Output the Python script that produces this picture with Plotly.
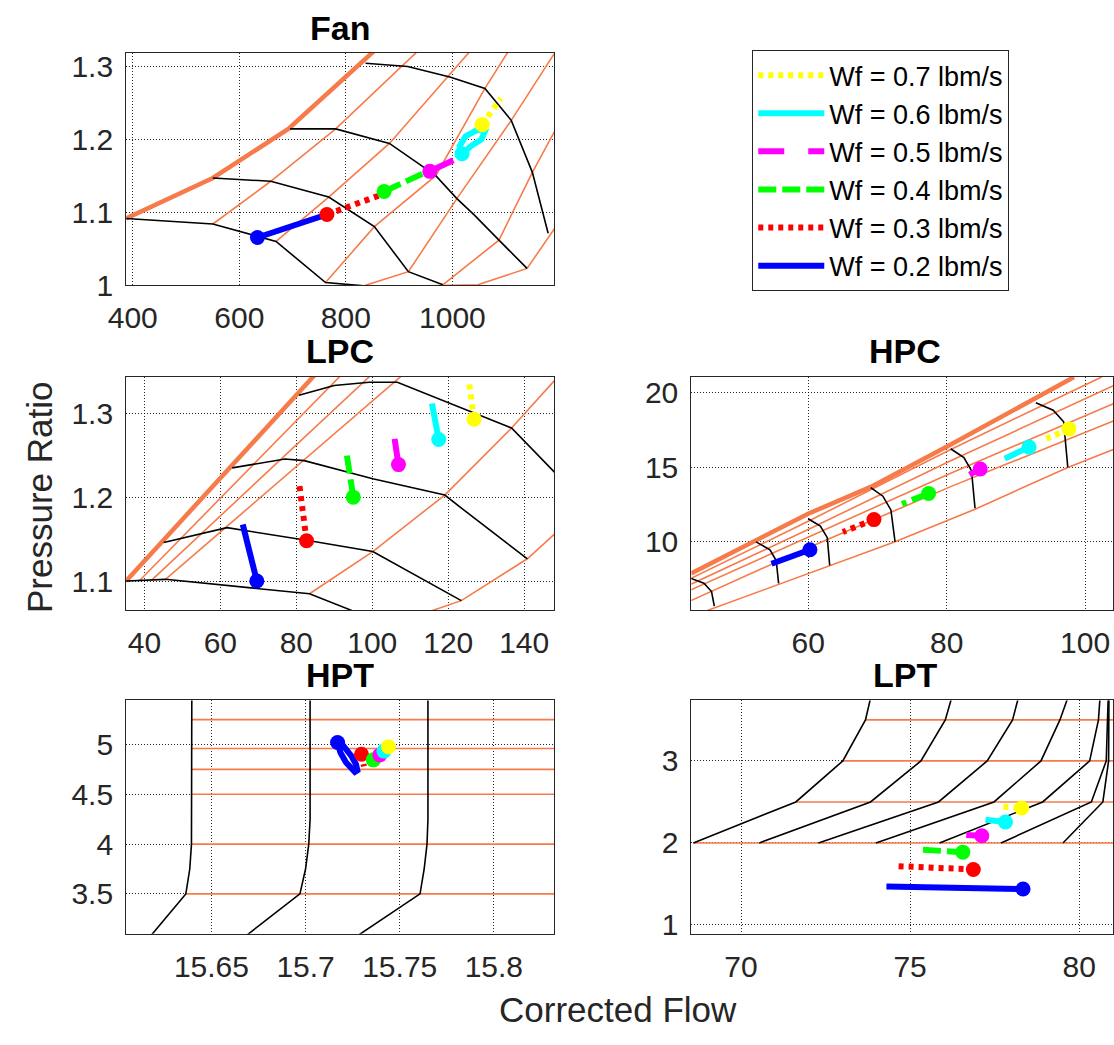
import plotly.graph_objects as go

# ---------------- DATA ----------------
wf_names = ["Wf = 0.2 lbm/s", "Wf = 0.3 lbm/s", "Wf = 0.4 lbm/s",
            "Wf = 0.5 lbm/s", "Wf = 0.6 lbm/s", "Wf = 0.7 lbm/s"]

# Fan map
fan_surge_x = [387.5, 550.3, 692.0, 850.0, 870.0]
fan_surge_y = [1.0914, 1.1468, 1.2140, 1.3190, 1.3320]
fan_speed_x = [[387.5, 550.3, 668.9, 761.8, 833.6],
               [550.3, 659.0, 767.7, 853.4, 917.3, 982.0],
               [695.2, 780.9, 881.7, 968.7, 1008.3, 1041.2, 1087.3, 1140.0],
               [836.9, 916.0, 995.1, 1061.0, 1110.4, 1150.0, 1179.6]]
fan_speed_y = [[1.0914, 1.0838, 1.0599, 1.0036, 0.9991],
               [1.1468, 1.1423, 1.1207, 1.0802, 1.0185, 1.0005],
               [1.2140, 1.2140, 1.1941, 1.1500, 1.1185, 1.0959, 1.0617, 1.0230],
               [1.3040, 1.2995, 1.2851, 1.2694, 1.2257, 1.1545, 1.0712]]
fan_beta_x = [[550.3, 659.0, 780.9, 932.5],
              [668.9, 767.7, 881.7, 1031.3],
              [761.8, 853.4, 968.7, 1061.0, 1103.8],
              [833.6, 917.3, 1008.3, 1110.4, 1190.8],
              [981.9, 1087.3, 1150.0, 1195.0],
              [899.5, 1047.8, 1140.1, 1195.0]]
fan_beta_y = [[1.0838, 1.1423, 1.2140, 1.3189],
              [1.0599, 1.1207, 1.1941, 1.3189],
              [1.0036, 1.0802, 1.1500, 1.2694, 1.3189],
              [0.9991, 1.0185, 1.1185, 1.2257, 1.3167],
              [1.0005, 1.0617, 1.1545, 1.2150],
              [0.9986, 1.0005, 1.0230, 1.0810]]
fan_op_x = [[634.0, 700.0, 764.4],
            [764.4, 863.3],
            [871.8, 952.2],
            [957.5, 1008.3],
            [1018.0, 1013.5, 1024.7, 1047.8, 1061.0, 1054.4, 1034.6, 1021.4],
            [1055.7, 1090.6]]
fan_op_y = [[1.0653, 1.0810, 1.0968],
            [1.0968, 1.1230],
            [1.1284, 1.1554],
            [1.1559, 1.1734],
            [1.1800, 1.1905, 1.2040, 1.2130, 1.2108, 1.1995, 1.1905, 1.1815],
            [1.2198, 1.2559]]
fan_mark_x = [634.0, 764.4, 871.8, 957.5, 1018.0, 1055.7]
fan_mark_y = [1.0653, 1.0968, 1.1284, 1.1559, 1.1800, 1.2198]

# LPC map
lpc_surge_x = [35.19, 86.25]
lpc_surge_y = [1.1000, 1.3526]
lpc_speed_x = [[35.19, 45.55, 83.48, 94.58],
               [45.09, 61.74, 83.48, 100.13, 123.44],
               [63.13, 77.00, 82.09, 100.13, 119.09, 125.10, 140.83],
               [80.70, 89.95, 99.20, 106.60, 136.67, 147.96]]
lpc_speed_y = [[1.1000, 1.1020, 1.0848, 1.0649],
               [1.1460, 1.1636, 1.1480, 1.1351, 1.0766],
               [1.2349, 1.2454, 1.2435, 1.2220, 1.2025, 1.1811, 1.1265],
               [1.3214, 1.3331, 1.3370, 1.3370, 1.2825, 1.2298]]
lpc_beta_x = [[38.61, 93.20],
              [41.85, 101.20],
              [45.55, 109.60],
              [83.48, 100.13, 119.09, 136.67, 147.96],
              [115.85, 123.44, 140.83, 147.96]]
lpc_beta_y = [[1.1000, 1.3520],
              [1.1008, 1.3520],
              [1.1020, 1.3520],
              [1.0848, 1.1351, 1.2025, 1.2825, 1.3390],
              [1.0649, 1.0766, 1.1265, 1.1558]]
lpc_op_x = [[69.6, 68.3, 67.0, 65.9],
            [82.7, 80.7],
            [95.0, 93.2],
            [106.9, 105.5],
            [117.5, 115.7],
            [126.8, 125.4]]
lpc_op_y = [[1.1000, 1.1260, 1.1500, 1.1674],
            [1.1480, 1.2180],
            [1.2000, 1.2532],
            [1.2388, 1.2805],
            [1.2688, 1.3117],
            [1.2930, 1.3390]]
lpc_mark_x = [69.6, 82.7, 95.0, 106.9, 117.5, 126.8]
lpc_mark_y = [1.1000, 1.1480, 1.2000, 1.2388, 1.2688, 1.2930]

# HPC map
hpc_surge_x = [43.08, 52.47, 60.00, 69.04, 80.60, 98.40]
hpc_surge_y = [7.88, 10.07, 11.88, 13.68, 16.52, 21.05]
hpc_speed_x = [[43.08, 44.94, 46.04, 46.44],
               [52.47, 54.48, 55.38, 55.73],
               [60.00, 61.76, 62.76, 63.11],
               [69.04, 70.79, 71.95, 72.55],
               [80.58, 82.49, 83.59, 84.10],
               [92.88, 95.39, 96.90, 97.50]]
hpc_speed_y = [[7.55, 7.22, 6.67, 5.69],
               [10.00, 9.47, 8.75, 7.22],
               [11.55, 11.05, 10.28, 8.42],
               [13.63, 13.06, 12.14, 10.00],
               [16.24, 15.65, 14.77, 12.25],
               [19.32, 18.82, 18.05, 14.99]]
hpc_beta_x = [[43.08, 60.00, 80.58, 102.40],
              [43.08, 60.00, 80.58, 104.08],
              [43.08, 60.00, 80.58, 104.08],
              [43.08, 60.00, 80.58, 104.08],
              [45.44, 63.01, 72.55, 84.10, 97.50, 104.08]]
hpc_beta_y = [[7.55, 11.38, 16.19, 21.05],
              [7.16, 10.83, 15.43, 20.46],
              [6.78, 10.30, 14.60, 19.26],
              [6.06, 9.60, 13.70, 18.10],
              [5.40, 8.38, 10.00, 12.19, 14.99, 16.19]]
hpc_op_x = [[60.25, 54.70], [69.50, 65.00], [77.40, 73.55],
            [84.85, 83.30], [91.90, 88.40], [97.65, 94.40]]
hpc_op_y = [[9.47, 8.53], [11.49, 10.66], [13.24, 12.54],
            [14.88, 14.50], [16.35, 15.58], [17.57, 16.91]]
hpc_mark_x = [60.25, 69.50, 77.40, 84.85, 91.90, 97.65]
hpc_mark_y = [9.47, 11.49, 13.24, 14.88, 16.35, 17.57]

# HPT map
hpt_speed_x = [[15.6396, 15.6396, 15.6394, 15.6385, 15.6364, 15.6143],
               [15.7024, 15.7024, 15.7017, 15.7000, 15.6970, 15.6630],
               [15.7650, 15.7650, 15.7645, 15.7630, 15.7608, 15.7213]]
hpt_speed_y = [[5.6, 4.25, 4.0, 3.75, 3.5, 3.0],
               [5.6, 4.25, 4.0, 3.75, 3.5, 3.0],
               [5.6, 4.25, 4.0, 3.75, 3.5, 3.0]]
hpt_beta_y = [5.25, 4.96, 4.75, 4.5, 4.0, 3.5]
hpt_beta_x0 = [15.6396, 15.6396, 15.6396, 15.6396, 15.6394, 15.6364]
hpt_op_x = [[15.7170, 15.7185, 15.7215, 15.7245, 15.7262, 15.7275,
             15.7268, 15.7245, 15.7218, 15.7195],
            [15.7297, 15.7310], [15.7360, 15.7370], [15.7394, 15.7385],
            [15.7416, 15.7403], [15.7440, 15.7430]]
hpt_op_y = [[5.020, 4.920, 4.820, 4.745, 4.725, 4.740,
             4.800, 4.880, 4.950, 5.000],
            [4.902, 4.780], [4.846, 4.780], [4.895, 4.860],
            [4.934, 4.890], [4.977, 4.950]]
hpt_mark_x = [15.7170, 15.7297, 15.7360, 15.7394, 15.7416, 15.7440]
hpt_mark_y = [5.020, 4.902, 4.846, 4.895, 4.934, 4.977]

# LPT map
lpt_speed_x = [[68.59, 71.62, 73.01, 73.68, 73.85],
               [70.54, 73.83, 75.32, 76.04, 76.25],
               [72.29, 75.84, 77.28, 78.03, 78.22],
               [73.99, 77.48, 78.87, 79.43, 79.69],
               [75.87, 78.92, 80.31, 80.57, 80.62],
               [77.69, 80.36, 80.80, 80.85, 80.86],
               [79.52, 80.70, 80.87, 80.88, 80.88]]
lpt_speed_y = [[2.0, 2.5, 3.0, 3.5, 3.8],
               [2.0, 2.5, 3.0, 3.5, 3.8],
               [2.0, 2.5, 3.0, 3.5, 3.8],
               [2.0, 2.5, 3.0, 3.5, 3.8],
               [2.0, 2.5, 3.0, 3.5, 3.8],
               [2.0, 2.5, 3.0, 3.5, 3.8],
               [2.0, 2.5, 3.0, 3.5, 3.8]]
lpt_beta_y = [3.5, 3.0, 2.5, 2.0]
lpt_beta_x0 = [73.68, 73.01, 71.62, 68.59]
lpt_op_x = [[74.30, 78.34], [74.66, 76.87], [75.38, 76.56],
            [76.66, 77.12], [77.23, 77.82], [77.76, 78.30]]
lpt_op_y = [[1.470, 1.438], [1.717, 1.677], [1.916, 1.888],
            [2.096, 2.088], [2.283, 2.255], [2.442, 2.426]]
lpt_mark_x = [78.34, 76.87, 76.56, 77.12, 77.82, 78.30]
lpt_mark_y = [1.438, 1.677, 1.888, 2.088, 2.255, 2.426]

# axis settings (ranges / ticks)
fan_xrange, fan_yrange = [387.5, 1190.8], [1.0, 1.3179]
lpc_xrange, lpc_yrange = [35.19, 147.87], [1.0649, 1.3436]
hpc_xrange, hpc_yrange = [43.12, 104.03], [5.40, 21.07]
hpt_xrange, hpt_yrange = [15.6047, 15.832], [3.099, 5.443]
lpt_xrange, lpt_yrange = [68.53, 81.0], [0.892, 3.738]

fan_xticks, fan_yticks = [400, 600, 800, 1000], [1, 1.1, 1.2, 1.3]
lpc_xticks, lpc_yticks = [40, 60, 80, 100, 120, 140], [1.1, 1.2, 1.3]
hpc_xticks, hpc_yticks = [60, 80, 100], [10, 15, 20]
hpt_xticks, hpt_yticks = [15.65, 15.7, 15.75, 15.8], [3.5, 4, 4.5, 5]
lpt_xticks, lpt_yticks = [70, 75, 80], [1, 2, 3]

# ---------------- STYLE ----------------
W, H = 1114, 1045
wf_colors = ["#0000FF", "#FF0000", "#00FF00", "#FF00FF", "#00FFFF", "#FFFF00"]
wf_dash = ["solid", "5px,5px", "18px,6px", "26px,24px", "solid", "5px,5px"]
ORANGE = "#F77B4A"
FONT = "Liberation Sans, Arial, Helvetica, sans-serif"
TXT = "#262626"

fig = go.Figure()


def px_dom_x(a, b):
    return [a / W, min(b / W, 1.0)]


def px_dom_y(top, bottom):
    return [1 - bottom / H, 1 - top / H]


panels = [
    dict(name="Fan", ax="", dx=(110, 545.4), dy=(51, 287.7),
         xr=fan_xrange, yr=fan_yrange, xt=fan_xticks, yt=fan_yticks),
    dict(name="LPC", ax="2", dx=(110, 545.4), dy=(381, 619.3),
         xr=lpc_xrange, yr=lpc_yrange, xt=lpc_xticks, yt=lpc_yticks),
    dict(name="HPC", ax="3", dx=(685, 1114), dy=(381, 619.3),
         xr=hpc_xrange, yr=hpc_yrange, xt=hpc_xticks, yt=hpc_yticks),
    dict(name="HPT", ax="4", dx=(110, 545.4), dy=(711, 949),
         xr=hpt_xrange, yr=hpt_yrange, xt=hpt_xticks, yt=hpt_yticks),
    dict(name="LPT", ax="5", dx=(685, 1114), dy=(711, 949),
         xr=lpt_xrange, yr=lpt_yrange, xt=lpt_xticks, yt=lpt_yticks),
]


def line(ax, x, y, color, width, dash="solid", name=None, legend=False):
    fig.add_trace(go.Scatter(
        x=x, y=y, mode="lines", xaxis="x" + ax, yaxis="y" + ax,
        line=dict(color=color, width=width, dash=dash),
        name=name, showlegend=legend, hoverinfo="skip"))


def draw_map(ax, speed_x, speed_y, beta_x, beta_y, surge_x=None, surge_y=None):
    for bx, by in zip(beta_x, beta_y):
        line(ax, bx, by, ORANGE, 1.6)
    if surge_x is not None:
        line(ax, surge_x, surge_y, ORANGE, 4.5)
    for sx, sy in zip(speed_x, speed_y):
        line(ax, sx, sy, "black", 1.6)


def draw_ops(ax, ox, oy, mx, my, legend=False):
    for i in range(6):
        line(ax, ox[i], oy[i], wf_colors[i], 6, wf_dash[i],
             name=wf_names[i], legend=legend)
    for i in range(6):
        fig.add_trace(go.Scatter(
            x=[mx[i]], y=[my[i]], mode="markers", xaxis="x" + ax, yaxis="y" + ax,
            marker=dict(color=wf_colors[i], size=15, line=dict(width=0)),
            showlegend=False, hoverinfo="skip"))


# Fan
draw_map("", fan_speed_x, fan_speed_y, fan_beta_x, fan_beta_y, fan_surge_x, fan_surge_y)
draw_ops("", fan_op_x, fan_op_y, fan_mark_x, fan_mark_y, legend=True)
# LPC
draw_map("2", lpc_speed_x, lpc_speed_y, lpc_beta_x, lpc_beta_y, lpc_surge_x, lpc_surge_y)
draw_ops("2", lpc_op_x, lpc_op_y, lpc_mark_x, lpc_mark_y)
# HPC
draw_map("3", hpc_speed_x, hpc_speed_y, hpc_beta_x, hpc_beta_y, hpc_surge_x, hpc_surge_y)
draw_ops("3", hpc_op_x, hpc_op_y, hpc_mark_x, hpc_mark_y)
# HPT
hpt_bx = [[x0, 16.0] for x0 in hpt_beta_x0]
hpt_by = [[y, y] for y in hpt_beta_y]
draw_map("4", hpt_speed_x, hpt_speed_y, hpt_bx, hpt_by)
draw_ops("4", hpt_op_x, hpt_op_y, hpt_mark_x, hpt_mark_y)
# LPT
lpt_bx = [[x0, 82.0] for x0 in lpt_beta_x0]
lpt_by = [[y, y] for y in lpt_beta_y]
draw_map("5", lpt_speed_x, lpt_speed_y, lpt_bx, lpt_by)
draw_ops("5", lpt_op_x, lpt_op_y, lpt_mark_x, lpt_mark_y)

layout = dict(
    width=W, height=H, margin=dict(l=0, r=0, t=0, b=0),
    paper_bgcolor="white", plot_bgcolor="white",
    font=dict(family=FONT, color=TXT, size=30),
    showlegend=True,
    legend=dict(x=747 / W, y=1 - 48 / H, xanchor="left", yanchor="top",
                traceorder="reversed", bgcolor="white", bordercolor=TXT,
                borderwidth=1, font=dict(size=27, color="black", family=FONT),
                itemwidth=66, tracegroupgap=0),
    annotations=[],
)

common_axis = dict(showline=True, mirror=True, linecolor=TXT, linewidth=1,
                   showgrid=True, gridcolor="rgba(0,0,0,0.85)", gridwidth=1,
                   griddash="1px,2px", zeroline=False, ticks="",
                   tickfont=dict(size=30, color=TXT, family=FONT))

for p in panels:
    ax = p["ax"]
    layout["xaxis" + ax] = dict(common_axis, domain=px_dom_x(*p["dx"]), range=p["xr"],
                                tickvals=p["xt"], ticktext=[f"{v:g}" for v in p["xt"]],
                                anchor="y" + ax, ticklabelstandoff=6)
    layout["yaxis" + ax] = dict(common_axis, domain=px_dom_y(*p["dy"]), range=p["yr"],
                                tickvals=p["yt"], ticktext=[f"{v:g}" for v in p["yt"]],
                                anchor="x" + ax, ticklabelstandoff=6)
    cx = (p["dx"][0] + p["dx"][0] + 435.4) / 2
    layout["annotations"].append(dict(
        text="<b>" + p["name"] + "</b>", x=cx / W, y=1 - (p["dy"][0] - 26) / H,
        xref="paper", yref="paper", xanchor="center", yanchor="middle",
        showarrow=False, font=dict(size=34, color="black", family=FONT)))

layout["annotations"].append(dict(
    text="Pressure Ratio", x=22 / W, y=1 - 504 / H, xref="paper", yref="paper",
    textangle=-90, showarrow=False, xanchor="center", yanchor="middle",
    font=dict(size=35, color=TXT, family=FONT)))
layout["annotations"].append(dict(
    text="Corrected Flow", x=610 / W, y=1 - 1026 / H, xref="paper", yref="paper",
    showarrow=False, xanchor="center", yanchor="middle",
    font=dict(size=35, color=TXT, family=FONT)))

fig.update_layout(**layout)
fig.write_html("out.html")
